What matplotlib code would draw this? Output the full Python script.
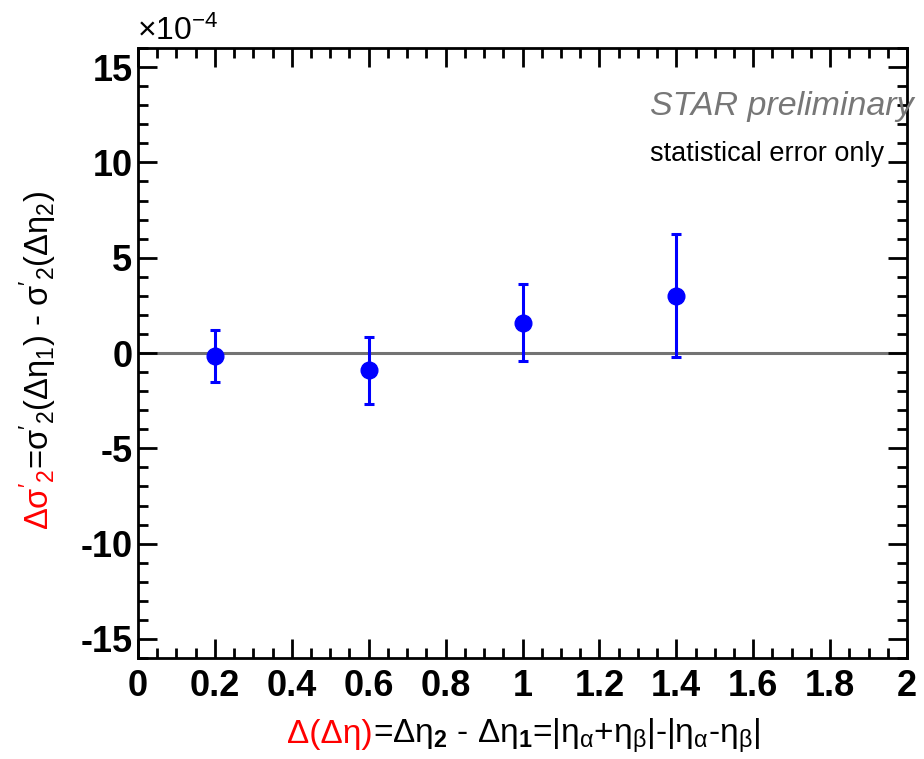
import matplotlib

matplotlib.use('Agg')
import matplotlib.pyplot as plt
import matplotlib.ticker as ticker

plt.rcParams.update({
    'font.family': ['Liberation Sans', 'DejaVu Sans'],
    'mathtext.fontset': 'custom',
    'mathtext.rm': 'Liberation Sans',
    'mathtext.it': 'Liberation Sans:italic',
    'mathtext.bf': 'Liberation Sans:bold',
    'mathtext.default': 'regular',
    'axes.unicode_minus': False,
})

# data, y values in units of 1e-4
d_deta = [0.2, 0.6, 1.0, 1.4]
d_sigma = [-0.15, -0.9, 1.6, 3.0]
stat_err = [1.37, 1.75, 2.0, 3.22]

x_ticks = [0, 0.2, 0.4, 0.6, 0.8, 1, 1.2, 1.4, 1.6, 1.8, 2]
y_ticks = [-15, -10, -5, 0, 5, 10, 15]

W, H = 924, 759
fig = plt.figure(figsize=(W / 100, H / 100), dpi=100)
ax = fig.add_axes([138 / W, (H - 658) / H, 769 / W, 610 / H])

ax.axhline(0, color='0.45', lw=2.2, zorder=1)
ax.errorbar(d_deta, d_sigma, yerr=stat_err, fmt='o', color='#0000ff',
            ms=12, elinewidth=2.2, capsize=3.5, capthick=2.2, zorder=3)

ax.set_xlim(0, 2)
ax.set_ylim(-16, 16)
ax.set_xticks(x_ticks)
ax.set_yticks(y_ticks)
ax.xaxis.set_major_formatter(ticker.FormatStrFormatter('%g'))
ax.xaxis.set_minor_locator(ticker.AutoMinorLocator(4))
ax.yaxis.set_minor_locator(ticker.AutoMinorLocator(5))
ax.tick_params(which='both', direction='in', top=True, right=True, width=2)
ax.tick_params(which='major', length=14)
ax.tick_params(which='minor', length=7)
ax.tick_params(axis='x', which='major', pad=8)
ax.tick_params(axis='y', which='major', pad=4)
for lab in ax.get_xticklabels() + ax.get_yticklabels():
    lab.set_fontsize(26)
    lab.set_fontweight('bold')
for s in ax.spines.values():
    s.set_linewidth(2)

fig.text(137 / W, 1 - 40 / H, '×10$^{-4}$', fontsize=23, ha='left', va='baseline')

ax.text(650 / W, 1 - 115 / H, 'STAR preliminary', transform=fig.transFigure,
        fontsize=24.5, style='italic', color='#777777', ha='left', va='baseline')
ax.text(650 / W, 1 - 161 / H, 'statistical error only', transform=fig.transFigure,
        fontsize=19.5, color='black', ha='left', va='baseline')

# x label: red part then black part
xl_red = fig.text(287 / W, 1 - 743 / H, 'Δ(Δη)', fontsize=24, color='red',
                  ha='left', va='baseline')
fig.canvas.draw()
r = fig.canvas.get_renderer()
bb = xl_red.get_window_extent(r)
fig.text(bb.x1 / W, 1 - 743 / H,
         '=$Δη_{\\mathbf{2}}$ - $Δη_{\\mathbf{1}}$=|$η_α$+$η_β$|-|$η_α$-$η_β$|',
         fontsize=24, color='black', ha='left', va='baseline')

# y label: red part then black part, rotated
yl_red = fig.text(49 / W, 1 - 530 / H, "Δ$σ'_2$", fontsize=23.5, color='red',
                  rotation=90, rotation_mode='anchor', ha='left', va='baseline')
fig.canvas.draw()
bb = yl_red.get_window_extent(r)
fig.text(49 / W, bb.y1 / H,
         "=$σ'_2$($Δη_1$) - $σ'_2$($Δη_2$)",
         fontsize=23.5, color='black', rotation=90, rotation_mode='anchor',
         ha='left', va='baseline')

plt.savefig('out.png', dpi=100)
